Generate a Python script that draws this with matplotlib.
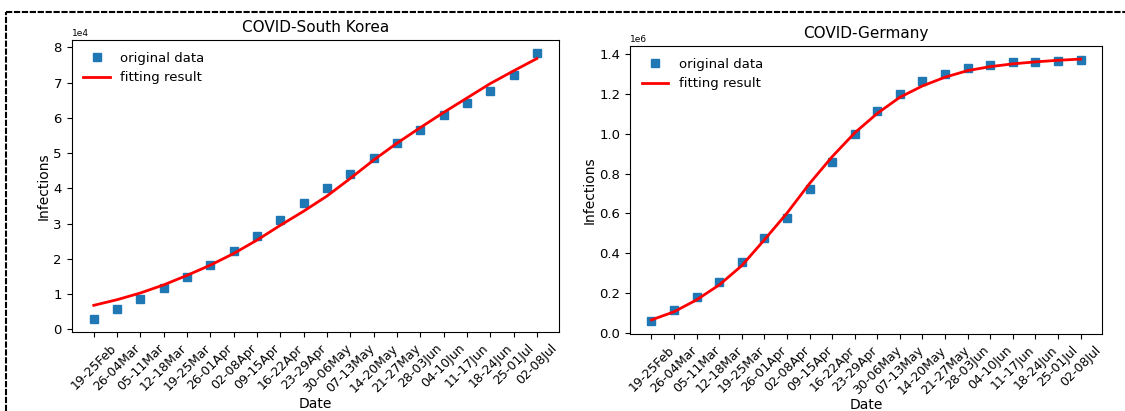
import matplotlib
matplotlib.use("Agg")
import matplotlib.pyplot as plt
from matplotlib.lines import Line2D

weeks = ["19-25Feb", "26-04Mar", "05-11Mar", "12-18Mar", "19-25Mar", "26-01Apr",
         "02-08Apr", "09-15Apr", "16-22Apr", "23-29Apr", "30-06May", "07-13May",
         "14-20May", "21-27May", "28-03Jun", "04-10Jun", "11-17Jun", "18-24Jun",
         "25-01Jul", "02-08Jul"]

korea_data = [3000, 5700, 8700, 11700, 14700, 18200, 22100, 26400, 31000, 35700,
              40000, 44000, 48500, 52800, 56500, 60700, 64100, 67600, 72100, 78300]
korea_fit = [6800, 8400, 10300, 12600, 15300, 18200, 21500, 25300, 29500, 33500,
             37800, 42800, 48000, 52800, 57200, 61500, 65600, 69700, 73300, 76800]

germany_data = [59000, 113000, 177000, 256000, 357000, 477000, 578000, 722000, 856000, 998000,
                1116000, 1202000, 1266000, 1303000, 1330000, 1347000, 1359000, 1362000, 1367000, 1369000]
germany_fit = [64000, 105000, 165000, 240000, 337000, 467000, 601000, 750000, 885000, 1005000,
               1103000, 1184000, 1241000, 1285000, 1318000, 1338000, 1352000, 1362000, 1370000, 1376000]

W, H, DPI = 1125, 411, 100
fig = plt.figure(figsize=(W / DPI, H / DPI), dpi=DPI)

def px_axes(x0, y0, x1, y1):
    return fig.add_axes([x0 / W, 1 - y1 / H, (x1 - x0) / W, (y1 - y0) / H])

ax1 = px_axes(71.6, 40, 559, 332)
ax2 = px_axes(630, 46, 1102, 334)

def draw(ax, data, fit, title, xpad):
    x = list(range(len(weeks)))
    ax.plot(x, data, 's', color='#1f77b4', markersize=6, label='original data')
    ax.plot(x, fit, '-', color='red', linewidth=2, label='fitting result')
    ax.set_xticks(x)
    ax.set_xticklabels(weeks, rotation=45, fontsize=9)
    ax.tick_params(axis='y', labelsize=9.5)
    ax.set_title(title, fontsize=11)
    ax.set_xlabel('Date', fontsize=10, labelpad=xpad)
    ax.set_ylabel('Infections', fontsize=10, labelpad=2)
    ax.ticklabel_format(axis='y', style='sci', scilimits=(0, 0))
    ax.yaxis.get_offset_text().set_fontsize(6.5)
    ax.legend(loc='upper left', frameon=False, fontsize=9.5)

draw(ax1, korea_data, korea_fit, 'COVID-South Korea', 1.5)
draw(ax2, germany_data, germany_fit, 'COVID-Germany', 0.5)
ax1.set_yticks([0, 10000, 20000, 30000, 40000, 50000, 60000, 70000, 80000])

# dashed frame
fig.add_artist(Line2D([5.5 / W, 1.0], [1 - 12.5 / H, 1 - 12.5 / H], transform=fig.transFigure,
                      color='black', linewidth=1.5, dashes=(3, 0.8)))
fig.add_artist(Line2D([5.5 / W, 5.5 / W], [0, 1 - 12.5 / H], transform=fig.transFigure,
                      color='black', linewidth=1.5, dashes=(3, 0.8)))

fig.savefig('out.png', dpi=DPI)
